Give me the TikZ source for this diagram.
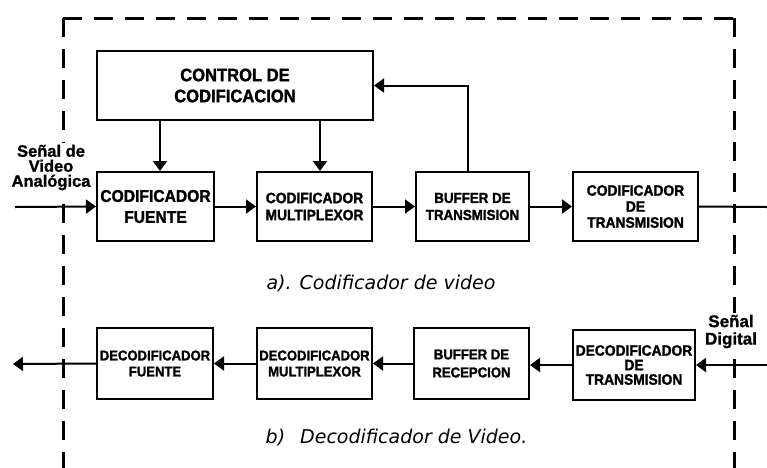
\documentclass[tikz,border=0pt]{standalone}
\usepackage{fontspec}
\setmainfont{Liberation Sans}
\newfontfamily\capfont{DejaVu Sans}
\newfontfamily\bxfont{Liberation Sans}[FakeStretch=0.92,FakeBold=1.5]
\newfontfamily\lbfont{Liberation Sans}[FakeBold=1.2]
\usetikzlibrary{arrows.meta}
\begin{document}
\begin{tikzpicture}[x=1pt,y=-1pt,
 blk/.style={draw, line width=2pt, inner sep=0pt, align=center},
 arr/.style={line width=2pt, -{Triangle[length=10pt,width=14pt]}},
 ln/.style={line width=2pt},
 dashline/.style={line width=3pt, dash pattern=on 19pt off 12pt},
 lab/.style={align=center, inner sep=2pt, fill=white},
 captxt/.style={font=\capfont\itshape\fontsize{19}{22}\selectfont, inner sep=0pt}]
\useasboundingbox (0,0) rectangle (767,467);
\clip (0,0) rectangle (767,467);
% dashed frame
\coordinate (tl) at (63,18);
\coordinate (tr) at (734,18);
\coordinate (bl) at (63,480);
\coordinate (br0) at (734,480);
\draw[dashline] (tl) -- (tr);
\draw[dashline] (tl) -- (bl);
\draw[dashline] (tr) -- (br0);
% top row
\node[blk, minimum width=276pt, minimum height=69pt, font=\bxfont\bfseries\fontsize{18}{21}\selectfont] (ctrl) at (235,85.5) {CONTROL DE\\CODIFICACION};
\node[blk, minimum width=117pt, minimum height=69pt, font=\bxfont\bfseries\fontsize{17}{21}\selectfont] (cf) at (155.5,206.5) {CODIFICADOR\\FUENTE};
\node[blk, minimum width=115pt, minimum height=69pt, font=\bxfont\bfseries\fontsize{15}{17}\selectfont] (cm) at (314.5,206.5) {CODIFICADOR\\MULTIPLEXOR};
\node[blk, minimum width=113pt, minimum height=69pt, font=\bxfont\bfseries\fontsize{14.5}{17}\selectfont] (bt) at (472.5,206.5) {BUFFER DE\\TRANSMISION};
\node[blk, minimum width=125pt, minimum height=69pt, font=\bxfont\bfseries\fontsize{15}{16}\selectfont] (ct) at (635.5,206.5) {CODIFICADOR\\DE\\TRANSMISION};
% bottom row
\node[blk, minimum width=116pt, minimum height=71pt, font=\bxfont\bfseries\fontsize{14.2}{16}\selectfont] (df) at (155,363.5) {DECODIFICADOR\\FUENTE};
\node[blk, minimum width=115pt, minimum height=71pt, font=\bxfont\bfseries\fontsize{14.2}{16}\selectfont] (dm) at (314.5,363.5) {DECODIFICADOR\\MULTIPLEXOR};
\node[blk, minimum width=115pt, minimum height=71pt, font=\bxfont\bfseries\fontsize{14.3}{18}\selectfont] (brx) at (471.5,363.5) {BUFFER DE\\RECEPCION};
\node[blk, minimum width=122pt, minimum height=70pt, font=\bxfont\bfseries\fontsize{15}{14.5}\selectfont] (dt) at (634,365) {DECODIFICADOR\\DE\\TRANSMISION};
% labels
\node[lab, font=\lbfont\bfseries\fontsize{16.5}{15}\selectfont] (lin) at (51,167.5) {Señal de\\Video\\Analógica};
\node[lab, font=\lbfont\bfseries\fontsize{17}{17.5}\selectfont] (lout) at (731,331.5) {Señal\\Digital};
\node[captxt] (capa) at (381,284) {a). Codificador de video};
\node[captxt] (capb) at (396.5,438) {b)\hspace{9pt} Decodificador de Video.};
% free ends
\coordinate (inA) at (15,207);
\coordinate (outA) at (767,207);
\coordinate (inB) at (767,365);
\coordinate (outB) at (13,364);
% connectors top
\draw[arr] (inA) -- (cf.west);
\draw[arr] (cf.east) -- (cm.west);
\draw[arr] (cm.east) -- (bt.west);
\draw[arr] (bt.east) -- (ct.west);
\draw[ln] (ct.east) -- (outA);
\draw[arr] ([xshift=4.5pt]cf.north |- ctrl.south) -- ([xshift=4.5pt]cf.north);
\draw[arr] ([xshift=5.5pt]cm.north |- ctrl.south) -- ([xshift=5.5pt]cm.north);
\draw[arr] ([xshift=-4.5pt]bt.north) |- (ctrl.east);
% connectors bottom
\draw[arr] (inB) -- (dt.east);
\draw[arr] (dt.west) -- (dt.west -| brx.east);
\draw[arr] (brx.west) -- (brx.west -| dm.east);
\draw[arr] (dm.west) -- (dm.west -| df.east);
\draw[arr] (df.west) -- (outB);
\end{tikzpicture}
\end{document}
